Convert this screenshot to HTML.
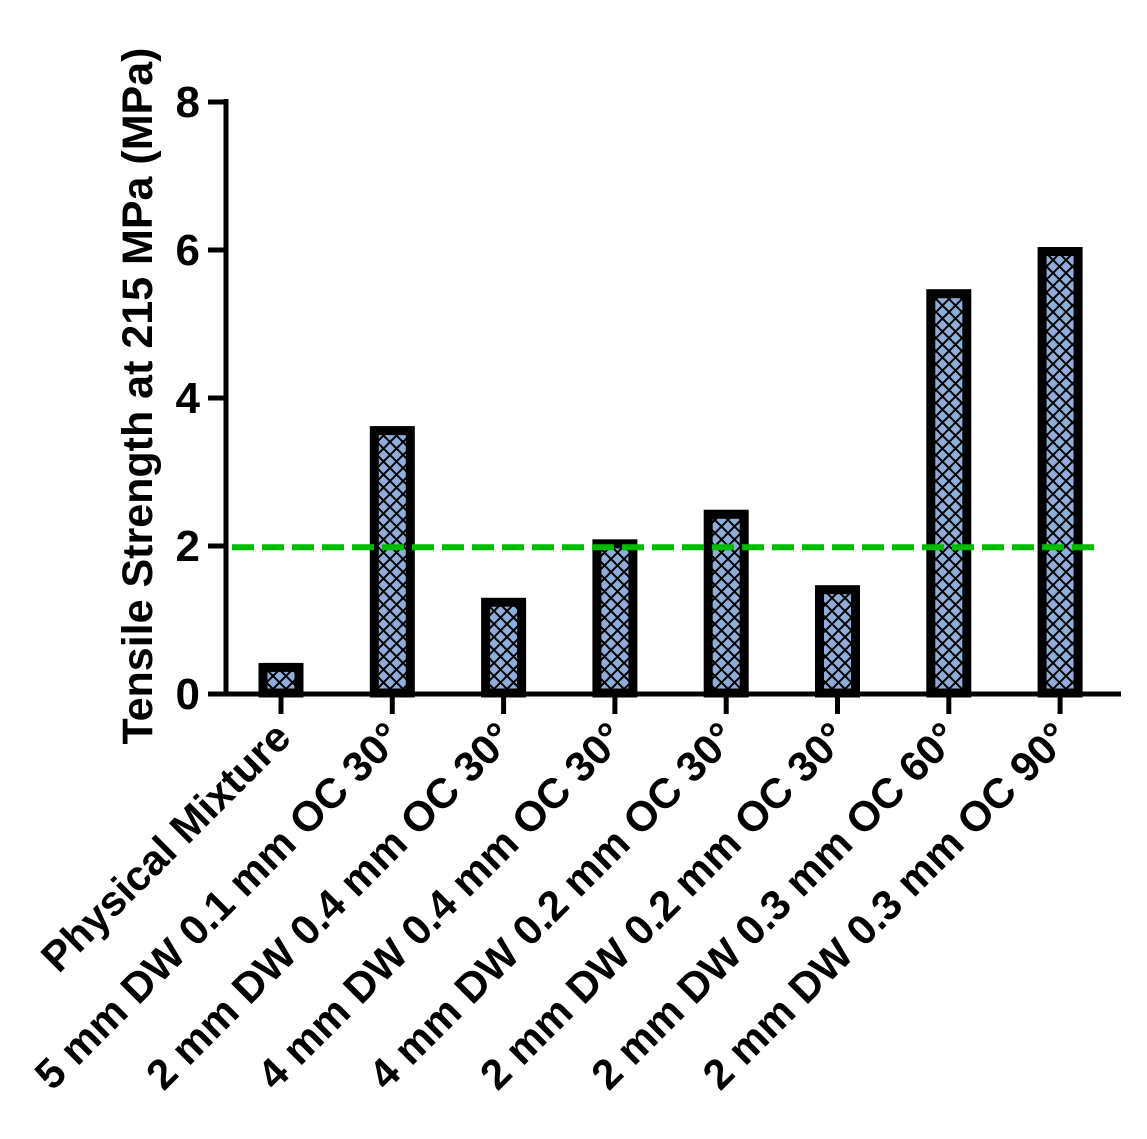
<!DOCTYPE html>
<html><head><meta charset="utf-8"><style>
html,body{margin:0;padding:0;background:#fff;}
svg text{font-family:"Liberation Sans",Arial,sans-serif;font-weight:bold;fill:#000;}
</style></head><body>
<svg id="chart" width="1147" height="1134" viewBox="0 0 1147 1134" xmlns="http://www.w3.org/2000/svg">
<defs>
<pattern id="hatch" patternUnits="userSpaceOnUse" width="13" height="13">
<rect width="13" height="13" fill="#8fadd8"/>
<path d="M0,0 L13,13 M13,0 L0,13" stroke="#000" stroke-width="2"/>
</pattern>
</defs>
<g id="bars"></g>
<g id="axes"></g>
<text x="0" y="0" font-size="43" text-anchor="middle" transform="translate(152,396) rotate(-90)">Tensile Strength at 215 MPa (MPa)</text>
</svg>
<script>
const categories=["Physical Mixture","5 mm DW 0.1 mm OC 30°","2 mm DW 0.4 mm OC 30°","4 mm DW 0.4 mm OC 30°","4 mm DW 0.2 mm OC 30°","2 mm DW 0.2 mm OC 30°","2 mm DW 0.3 mm OC 60°","2 mm DW 0.3 mm OC 90°"];
const values=[0.4,3.6,1.28,2.07,2.47,1.45,5.45,6.02];
const yTicks=[0,2,4,6,8];
const refValue=[1.97];
const NS="http://www.w3.org/2000/svg";
const x0=281,step=111.3,y0=693,ppu=74;
function xPos(i){return x0+i*step;}
function yPos(v){return y0-v*ppu;}
const bars=document.getElementById('bars'),axes=document.getElementById('axes');
function mk(tag,attrs,parent){const e=document.createElementNS(NS,tag);for(const k in attrs)e.setAttribute(k,attrs[k]);parent.appendChild(e);return e;}
values.forEach((v,i)=>{
 const r=mk('rect',{x:xPos(i)-18,y:yPos(v)+4,width:36,height:(y0-yPos(v))-4,fill:'url(#hatch)',stroke:'#000','stroke-width':9},bars);
 
 
});
const ref=mk('line',{x1:232,x2:1097,y1:yPos(refValue[0]),y2:yPos(refValue[0]),stroke:'#00bb00','stroke-width':6,'stroke-dasharray':'22 8'},axes);


const ya=mk('line',{x1:226,x2:226,y1:99,y2:696,stroke:'#000','stroke-width':5},axes);


const xa=mk('line',{x1:224,x2:1121,y1:694,y2:694,stroke:'#000','stroke-width':5},axes);


yTicks.forEach(t=>{
 const tk=mk('line',{x1:208,x2:228,y1:yPos(t)+1,y2:yPos(t)+1,stroke:'#000','stroke-width':5},axes);
 
 
 const lb=mk('text',{x:200,y:yPos(t)+16,'font-size':44,'text-anchor':'end'},axes);
 lb.textContent=t;
 
 
});
categories.forEach((c,i)=>{
 const tk=mk('line',{x1:xPos(i),x2:xPos(i),y1:694,y2:714,stroke:'#000','stroke-width':5},axes);
 
 
 const lb=mk('text',{x:0,y:0,'font-size':42,'text-anchor':'end',transform:'translate('+(xPos(i)+12)+',740) rotate(-45)'},axes);
 lb.textContent=c;
 
 
});
</script>
</body></html>
